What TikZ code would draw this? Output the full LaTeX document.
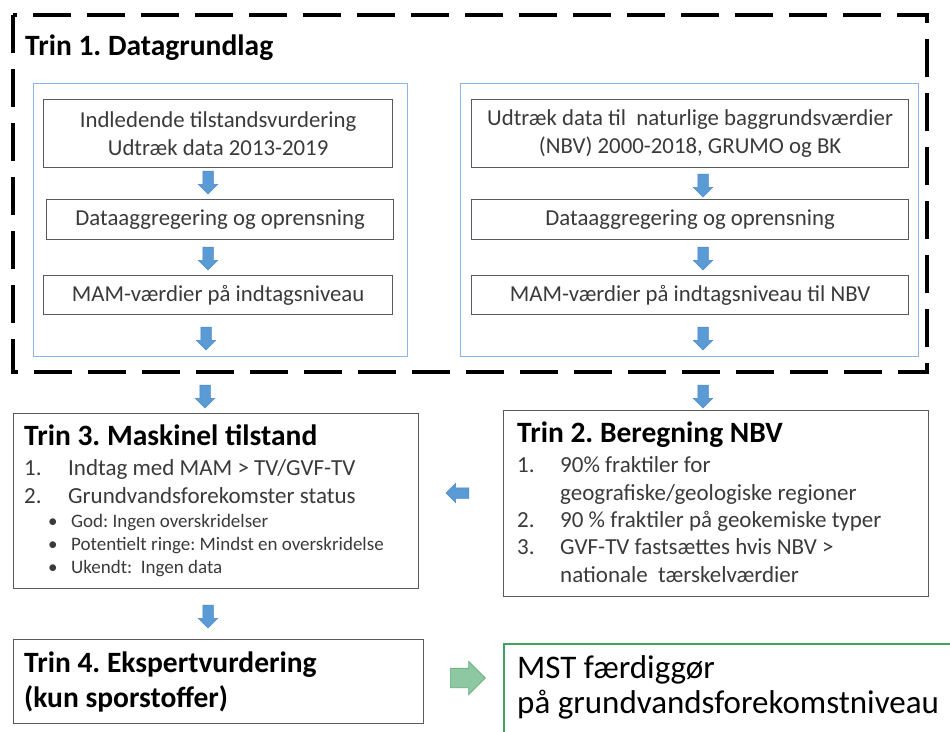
\documentclass[tikz,border=0pt]{standalone}
\usepackage{fontspec}
\setmainfont{Carlito}
\usetikzlibrary{shapes.arrows,positioning}
\definecolor{arblue}{HTML}{5B9BD5}
\definecolor{arline}{HTML}{4A86C0}
\definecolor{frame}{HTML}{8EB4E3}
\definecolor{boxline}{HTML}{5A5A5A}
\definecolor{txt}{HTML}{3A3A3A}
\definecolor{mstgreen}{HTML}{3FA25E}
\definecolor{argreen}{HTML}{8DC8A2}
\definecolor{arglin}{HTML}{5FAE7A}
\frenchspacing
\begin{document}
\begin{tikzpicture}[x=1pt,y=-1pt]

\tikzstyle{frm} = [draw=frame, line width=1pt, rectangle, anchor=north west, inner sep=0pt]
\tikzstyle{c} = [draw=boxline, line width=1.2pt, rectangle, anchor=north west, inner sep=0pt, align=center, text=txt, font=\fontsize{22.8}{28}\selectfont]
\tikzstyle{r} = [draw=boxline, line width=1.2pt, rectangle, anchor=north west, inner sep=0pt]
\tikzstyle{ar} = [single arrow, fill=arblue, draw=arline, line width=0.5pt, inner sep=5pt, single arrow head extend=4.5pt, minimum height=23pt]
\tikzstyle{hd} = [anchor=base west, inner sep=0pt, font=\fontsize{29.5}{34}\selectfont\bfseries]
\tikzstyle{it} = [anchor=base west, inner sep=0pt, text=txt, font=\fontsize{23}{28}\selectfont]
\tikzstyle{sm} = [anchor=base west, inner sep=0pt, text=txt, font=\fontsize{19}{22}\selectfont]

\clip (0,0) rectangle (950,731);

% Trin 1
\draw[line width=4pt, dash pattern=on 38pt off 16pt] (13,15) rectangle (927,372);
\node[hd] (t1) at (25,55) {Trin 1. Datagrundlag};

\node[frm, minimum width=374pt, minimum height=273pt] (fl) at (33,83) {};
\node[frm, minimum width=458pt, minimum height=273pt] (fr) at (460,83) {};

\node[c, minimum width=349pt, minimum height=68pt] (a1) at (43,99) {Indledende tilstandsvurdering\\Udtræk data 2013-2019};
\node[c, minimum width=347pt, minimum height=40pt] (a2) at (46,199) {Dataaggregering og oprensning};
\node[c, minimum width=349pt, minimum height=39pt] (a3) at (43,275) {MAM-værdier på indtagsniveau};

\node[c, minimum width=437pt, minimum height=68pt] (b1) at (471,99) {Udtræk data til\ \ naturlige baggrundsværdier\\(NBV) 2000-2018, GRUMO og BK};
\node[c, minimum width=437pt, minimum height=40pt] (b2) at (471,199) {Dataaggregering og oprensning};
\node[c, minimum width=437pt, minimum height=39pt] (b3) at (471,275) {MAM-værdier på indtagsniveau til NBV};

\node[ar, rotate=-90] (pa1) at (208,180) {};
\node[ar, rotate=-90] (pa2) at (208,256) {};
\node[ar, rotate=-90] (pa3) at (206,336) {};
\node[ar, rotate=-90] (pb1) at (703,183) {};
\node[ar, rotate=-90] (pb2) at (703,256) {};
\node[ar, rotate=-90] (pb3) at (703,336) {};

% Trin 3
\node[ar, rotate=-90] (p3) at (205,394) {};
\node[r, minimum width=405pt, minimum height=175pt] (t3) at (13,413) {};
\node[hd] (t3h) at (24,445) {Trin 3. Maskinel tilstand};
\node[it] (t3n1) at (24,475) {1.};
\node[it] (t3i1) at (68,475) {Indtag med MAM > TV/GVF-TV};
\node[it] (t3n2) at (24,503) {2.};
\node[it] (t3i2) at (68,503) {Grundvandsforekomster status};
\node[sm] (t3b1) at (48,527) {\textbullet};
\node[sm] (t3s1) at (71,527) {God: Ingen overskridelser};
\node[sm] (t3b2) at (48,550) {\textbullet};
\node[sm] (t3s2) at (71,550) {Potentielt ringe: Mindst en overskridelse};
\node[sm] (t3b3) at (48,573) {\textbullet};
\node[sm] (t3s3) at (71,573) {Ukendt:\ \ Ingen data};

% Trin 2
\node[ar, rotate=-90] (p2) at (703,394) {};
\node[r, minimum width=425pt, minimum height=186pt] (t2) at (503,410) {};
\node[hd] (t2h) at (517,442) {Trin 2. Beregning NBV};
\node[it] (t2n1) at (517,472) {1.};
\node[it] (t2i1) at (560,472) {90\% fraktiler for};
\node[it] (t2i1b) at (560,500) {geografiske/geologiske regioner};
\node[it] (t2n2) at (517,527) {2.};
\node[it] (t2i2) at (560,527) {90 \% fraktiler på geokemiske typer};
\node[it] (t2n3) at (517,554) {3.};
\node[it] (t2i3) at (560,554) {GVF-TV fastsættes hvis NBV >};
\node[it] (t2i3b) at (560,582) {nationale\ \ tærskelværdier};

\node[ar, rotate=180] (p23) at (460,493) {};

% Trin 4
\node[ar, rotate=-90] (p4) at (208,614) {};
\node[r, minimum width=410pt, minimum height=84pt] (t4) at (13,639) {};
\node[hd] (t4a) at (24,672) {Trin 4. Ekspertvurdering};
\node[hd] (t4b) at (24,707) {(kun sporstoffer)};

\node[single arrow, fill=argreen, draw=arglin, line width=0.6pt, inner sep=9.5pt, single arrow head extend=7pt, minimum height=35pt] (pg) at (463,678) {};
\node[draw=mstgreen, line width=1.6pt, rectangle, anchor=north west, minimum width=470pt, minimum height=110pt] (mst) at (503,643) {};
\node[anchor=base west, inner sep=0pt, font=\fontsize{33}{38}\selectfont] (m1) at (517,678) {MST færdiggør};
\node[anchor=base west, inner sep=0pt, font=\fontsize{33}{38}\selectfont] (m2) at (517,713) {på grundvandsforekomstniveau};

\end{tikzpicture}
\end{document}
